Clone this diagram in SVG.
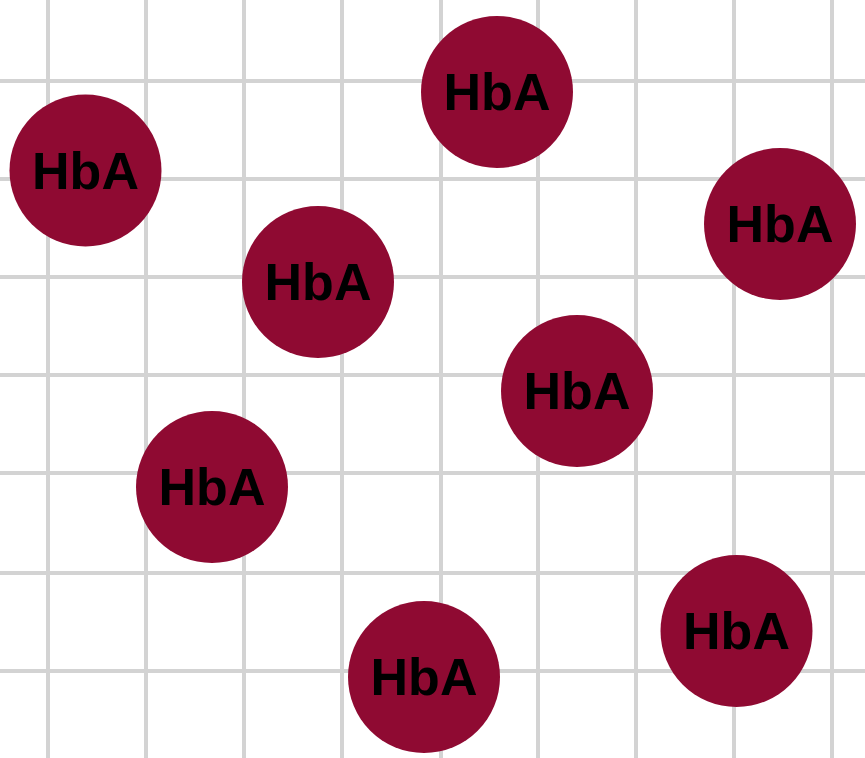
<svg xmlns="http://www.w3.org/2000/svg" width="865" height="758" viewBox="0 0 865 758">
<style>
.grid line{stroke:#d3d3d3;stroke-width:4}
.node circle{fill:#8f0a32}
.node text{font-family:"Liberation Sans",Arial,sans-serif;font-weight:bold;font-size:52px;fill:#000;text-anchor:middle}
</style>
<rect width="865" height="758" fill="#fff"/>
<g class="grid">
<line x1="48" y1="0" x2="48" y2="758"/>
<line x1="146" y1="0" x2="146" y2="758"/>
<line x1="244" y1="0" x2="244" y2="758"/>
<line x1="342" y1="0" x2="342" y2="758"/>
<line x1="441" y1="0" x2="441" y2="758"/>
<line x1="538" y1="0" x2="538" y2="758"/>
<line x1="636" y1="0" x2="636" y2="758"/>
<line x1="734" y1="0" x2="734" y2="758"/>
<line x1="832" y1="0" x2="832" y2="758"/>
<line x1="0" y1="81" x2="865" y2="81"/>
<line x1="0" y1="179" x2="865" y2="179"/>
<line x1="0" y1="277" x2="865" y2="277"/>
<line x1="0" y1="375" x2="865" y2="375"/>
<line x1="0" y1="473" x2="865" y2="473"/>
<line x1="0" y1="573" x2="865" y2="573"/>
<line x1="0" y1="671" x2="865" y2="671"/>
</g>
<g id="connectors"></g>
<g id="n1" class="node"><circle cx="85.5" cy="170.5" r="76"/><text x="85.5" y="188.5">HbA</text></g>
<g id="n2" class="node"><circle cx="497" cy="92" r="76"/><text x="497" y="110">HbA</text></g>
<g id="n3" class="node"><circle cx="780" cy="224" r="76"/><text x="780" y="242">HbA</text></g>
<g id="n4" class="node"><circle cx="318" cy="282" r="76"/><text x="318" y="300">HbA</text></g>
<g id="n5" class="node"><circle cx="577" cy="391" r="76"/><text x="577" y="409">HbA</text></g>
<g id="n6" class="node"><circle cx="212" cy="487" r="76"/><text x="212" y="505">HbA</text></g>
<g id="n7" class="node"><circle cx="736.5" cy="631" r="76"/><text x="736.5" y="649">HbA</text></g>
<g id="n8" class="node"><circle cx="424" cy="677" r="76"/><text x="424" y="695">HbA</text></g>
</svg>
